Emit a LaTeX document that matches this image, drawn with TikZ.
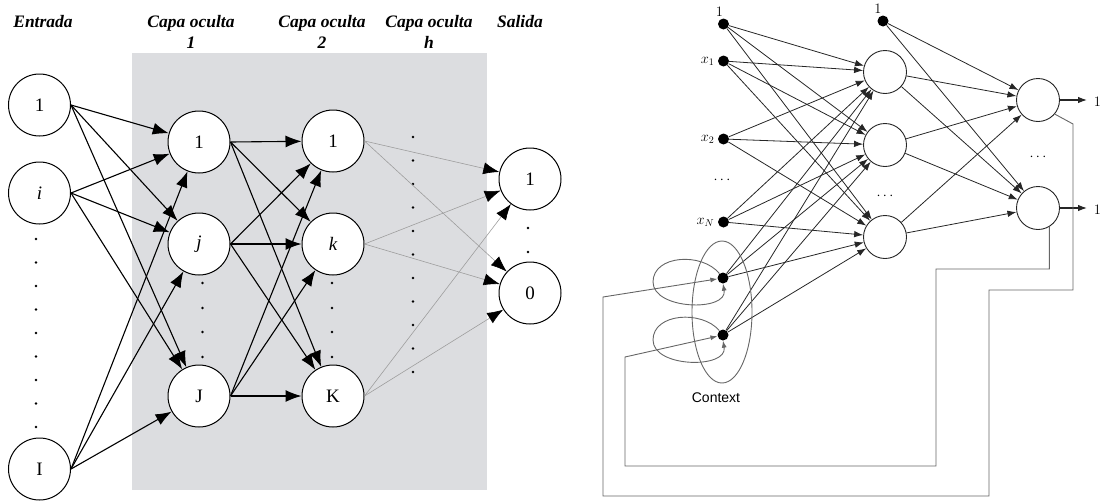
\documentclass[tikz,border=0pt]{standalone}
\usepackage{fontspec}
\setmainfont{Liberation Serif}
\setsansfont{Liberation Sans}
\usetikzlibrary{arrows.meta}
\definecolor{panel}{RGB}{220,221,224}
\begin{document}
\begin{tikzpicture}[x=1pt,y=-1pt,
  neuron/.style={circle,draw,line width=1pt,minimum size=62pt,inner sep=0pt,fill=white,
    font=\fontsize{19}{22}\selectfont},
  head/.style={font=\fontsize{17.5}{21}\selectfont\bfseries\itshape,align=center},
  bigarrow/.style={line width=1.1pt,-{Latex[length=16pt,width=12pt]}},
  faint/.style={draw=black!38,line width=0.6pt,-{Latex[length=16pt,width=12pt,color=black]}},
  dotmark/.style={circle,fill=black,inner sep=0pt,minimum size=2.8pt},
  unit/.style={circle,draw=black!85,line width=0.9pt,minimum size=43pt,inner sep=0pt},
  inp/.style={circle,fill=black,inner sep=0pt,minimum size=11pt},
  link/.style={draw=black!85,line width=0.8pt,-{Latex[length=9pt,width=6.5pt]}},
  loopline/.style={draw=black!60,line width=0.9pt},
  small/.style={font=\fontsize{14}{15}\selectfont},
]
\useasboundingbox (0,0) rectangle (1102,501);

% ---------------- feed-forward network with hidden layers ----------------
\fill[panel] (132,53) rectangle (487,490);

\node[head] at (43,22) {Entrada};
\node[head] at (191,32) {Capa oculta\\1};
\node[head] at (322,32) {Capa oculta\\2};
\node[head] at (429,32) {Capa oculta\\h};
\node[head] at (520,22) {Salida};

% input layer
\node[neuron] (in1) at (39.5,105) {1};
\node[neuron] (ini) at (39.5,193) {\itshape i};
\node[neuron] (inI) at (39.5,469) {I};
\foreach \k in {0,...,8} \node[dotmark] at (36,239+23.5*\k) {};

% hidden layer 1
\node[neuron] (a1) at (199,142) {1};
\node[neuron] (aj) at (199,244) {\itshape j};
\node[neuron] (aJ) at (199,396) {J};
\foreach \yy in {283,308,332,357} \node[dotmark] at (202.5,\yy) {};

% hidden layer 2
\node[neuron] (b1) at (333,141) {1};
\node[neuron] (bk) at (333,244) {\itshape k};
\node[neuron] (bK) at (333,396) {K};
\foreach \yy in {283,308,332,357} \node[dotmark] at (332,\yy) {};

% hidden layer h
\foreach \k in {0,...,10} \node[dotmark] at (413,137+23.5*\k) {};

% output layer
\node[neuron] (o1n) at (530,179) {1};
\node[neuron] (o0n) at (530,293) {0};
\node[dotmark] at (528,228) {};
\node[dotmark] at (528,252) {};

\foreach \s in {in1,ini,inI}
  \foreach \t in {a1,aj,aJ}
    \draw[bigarrow] (\s.east) -- (\t);
\foreach \s in {a1,aj,aJ}
  \foreach \t in {b1,bk,bK}
    \draw[bigarrow] (\s.east) -- (\t);
\foreach \s in {b1,bk,bK}
  \foreach \t in {o1n,o0n}
    \draw[faint] (\s.east) -- (\t);

% ---------------- recurrent network with context units ----------------
\node[inp,label={[small,xshift=-4pt,label distance=-2pt]above:$1$}] (x0) at (723.5,24) {};
\node[inp,label={[small]left:$x_1$}] (x1) at (723.5,61) {};
\node[inp,label={[small]left:$x_2$}] (x2) at (723.5,139) {};
\node[small] at (722,180) {$\cdots$};
\node[inp,label={[small]left:$x_N$}] (xN) at (723.5,222) {};
\node[inp] (c1) at (723,278) {};
\node[inp] (c2) at (723,335) {};

\node[unit] (h1) at (885,72) {};
\node[unit] (h2) at (885,145) {};
\node[unit] (h3) at (885,237) {};
\node[small] at (885,196) {$\cdots$};

\node[inp,label={[small,xshift=-5pt,label distance=-2pt]above:$1$}] (hb) at (883,21) {};

\node[unit] (y1) at (1038,100) {};
\node[unit] (y2) at (1038,208) {};
\node[small] at (1038,157) {$\cdots$};

\coordinate (e1) at (1087,100);
\coordinate (e2) at (1087,208);
\node[small,anchor=east,inner sep=0pt] at (1101,102) {$1$};
\node[small,anchor=east,inner sep=0pt] at (1101,210) {$1$};

\foreach \s in {x0,x1,x2,xN,c1,c2}
  \foreach \t in {h1,h2,h3}
    \draw[link] (\s) -- (\t);
\foreach \s in {h1,h2,h3,hb}
  \foreach \t in {y1,y2}
    \draw[link] (\s) -- (\t);
\draw[link,line width=1.1pt] (y1) -- (e1);
\draw[link,line width=1.1pt] (y2) -- (e2);

% context units: self loops and grouping ellipse
\draw[loopline,-{Latex[length=7pt,width=5pt]}] (c1) .. controls (702,252) and (653,255) .. (653,282)
  .. controls (653,310) and (728,312) .. (c1.south);
\draw[loopline,-{Latex[length=7pt,width=5pt]}] (c2) .. controls (702,310) and (653,313) .. (653,340)
  .. controls (653,368) and (728,369) .. (c2.south);
\draw[loopline] (722,312) ellipse [x radius=30,y radius=71];
\node[font=\sffamily\fontsize{14}{16}\selectfont] at (716,398) {Context};

% feedback lines from the outputs to the context units
\draw[loopline,-{Latex[length=7pt,width=5pt]}] (y1.-40) -- (1073,124) -- (1073,290) -- (989,290)
  -- (989,496) -- (603,496) -- (603,297) -- (c1);
\draw[loopline,-{Latex[length=7pt,width=5pt]}] (y2.-59) |- (936,269) -- (936,466) -- (625,466)
  -- (625,357) -- (c2);
\end{tikzpicture}
\end{document}
